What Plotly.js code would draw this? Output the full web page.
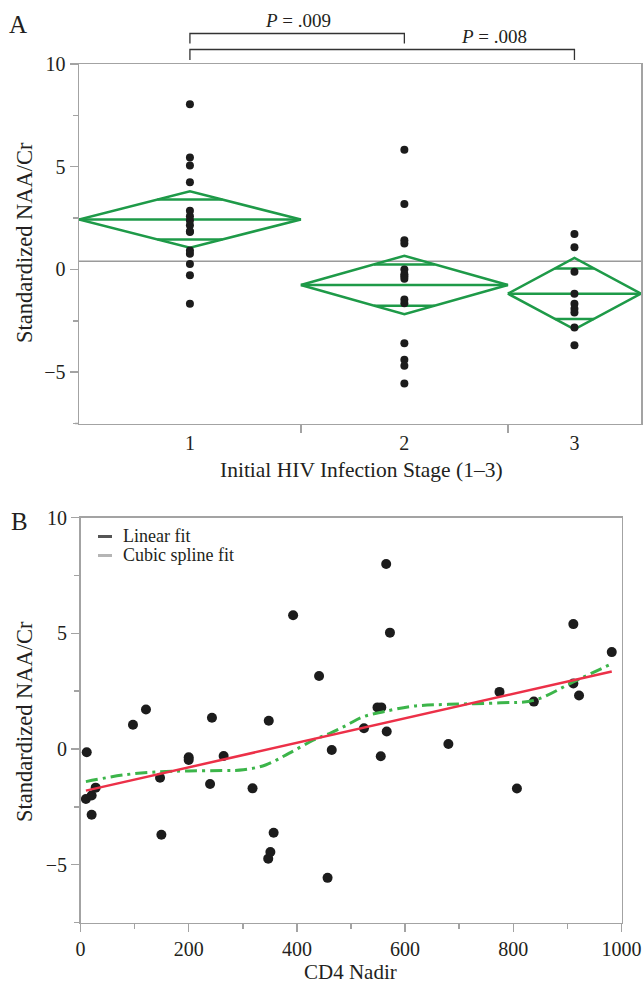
<!DOCTYPE html>
<html><head><meta charset="utf-8">
<script src="https://cdn.plot.ly/plotly-3.0.1.min.js"></script>
<style>html,body{margin:0;padding:0;background:#fff}</style>
</head><body><div id="chart" style="width:644px;height:986px"></div>
<script>
// ---------- Panel A data ----------
const stageLabels = ['1', '2', '3'];
const stage1 = [8.04, 5.45, 5.06, 4.24, 2.86, 2.59, 2.38, 2.15, 1.86, 1.82, 0.92, 0.76, 0.27, -0.28, -1.67];
const stage2 = [5.83, 3.19, 1.42, 1.26, 0.0, -0.24, -0.33, -0.45, -1.46, -1.65, -3.59, -4.40, -4.69, -5.55];
const stage3 = [1.73, 1.08, -0.11, -1.18, -1.67, -1.91, -2.10, -2.83, -3.69];
const groupMeans = [2.43, -0.76, -1.18];
const ciHalfWidth = [1.37, 1.42, 1.74];
const pLabels = ['<i>P</i> = .009', '<i>P</i> = .008'];

// ---------- Panel B data ----------
const cd4Nadir = [10, 11.5, 20.6, 20.6, 28, 97, 121, 147, 149.5, 200, 200, 239.5, 243, 264.6, 318, 348, 347, 351, 357,
  393, 441, 456.7, 464.4, 524, 549, 556, 555, 565, 566, 572, 680, 774.5, 806.7, 838, 911, 911, 921.5, 982];
const naaCr = [-2.16, -0.14, -2.01, -2.84, -1.67, 1.05, 1.71, -1.24, -3.71, -0.36, -0.47, -1.51, 1.35, -0.30, -1.70, 1.22, -4.74, -4.45, -3.62,
  5.78, 3.16, -5.57, -0.04, 0.90, 1.80, 1.80, -0.31, 8.00, 0.76, 5.03, 0.22, 2.47, -1.71, 2.05, 5.40, 2.83, 2.31, 4.19];
const linearFitX = [10, 982];
const linearFitY = [-1.80, 3.35];
const splineX = [10, 80, 147, 200, 264, 301, 342, 385, 431, 461, 492, 522, 560, 614, 680, 777, 839, 911, 982];
const splineY = [-1.41, -1.12, -0.98, -0.95, -0.93, -0.90, -0.69, -0.19, 0.39, 0.68, 1.03, 1.39, 1.61, 1.85, 1.93, 2.00, 2.11, 2.90, 3.69];
const legendLabels = ['Linear fit', 'Cubic spline fit'];

const yTickVals = [-5, 0, 5, 10];
const yTickText = ['\u22125', '0', '5', '10'];
const xTickValsB = [0, 200, 400, 600, 800, 1000];

// ---------- styling ----------
const W = 644, H = 986;
const px = x => x / W, py = y => 1 - y / H;
const FONT = 'Liberation Serif, Times New Roman, serif';
const TXT = '#231f20';
const AX = '#a3a3a3';
const GREEN = '#1e9a48';

const groups = [stage1, stage2, stage3];
const counts = groups.map(g => g.length);
const starts = [];
let acc = 0;
counts.forEach(c => { starts.push(acc); acc += c; });
const total = acc;
const ends = starts.map((s, i) => s + counts[i]);
const centers = starts.map((s, i) => (s + ends[i]) / 2);
const allA = [].concat(...groups);
const grandMean = allA.reduce((a, b) => a + b, 0) / allA.length;

const traces = [];
// diamonds
groups.forEach((g, i) => {
  const m = groupMeans[i], h = ciHalfWidth[i];
  const x0 = starts[i], x1 = ends[i], xc = centers[i];
  const hh = h / Math.SQRT2;
  const w = (x1 - x0) / 2 * (1 - 1 / Math.SQRT2);
  traces.push({
    x: [x0, xc, x1, xc, x0, null, x0, x1, null, xc - w, xc + w, null, xc - w, xc + w],
    y: [m, m + h, m, m - h, m, null, m, m, null, m + hh, m + hh, null, m - hh, m - hh],
    mode: 'lines', line: {color: GREEN, width: 2.5}, xaxis: 'x', yaxis: 'y',
    hoverinfo: 'skip', showlegend: false, connectgaps: false
  });
});
// points A
groups.forEach((g, i) => {
  traces.push({
    x: g.map(() => centers[i]), y: g, mode: 'markers',
    marker: {color: '#1c1c1c', size: 8}, xaxis: 'x', yaxis: 'y', showlegend: false
  });
});
// panel B
traces.push({x: cd4Nadir, y: naaCr, mode: 'markers', marker: {color: '#1c1c1c', size: 10},
  xaxis: 'x2', yaxis: 'y2', showlegend: false});
traces.push({x: splineX, y: splineY, mode: 'lines', line: {color: '#3cb54a', width: 3, dash: '12px,5px,3px,5px', shape: 'spline', smoothing: 1},
  xaxis: 'x2', yaxis: 'y2', showlegend: false});
traces.push({x: linearFitX, y: linearFitY, mode: 'lines', line: {color: '#ec3048', width: 2.5},
  xaxis: 'x2', yaxis: 'y2', showlegend: false});

const axisBase = {
  showline: true, linecolor: AX, linewidth: 1.5, mirror: true,
  ticks: 'outside', tickcolor: AX, tickwidth: 1.5, ticklen: 8,
  showgrid: false, zeroline: false, fixedrange: true,
  tickfont: {family: FONT, size: 20, color: TXT}
};

const layout = {
  width: W, height: H,
  margin: {l: 0, r: 0, t: 0, b: 0},
  paper_bgcolor: '#fff', plot_bgcolor: '#fff',
  showlegend: false,
  xaxis: Object.assign({}, axisBase, {
    domain: [px(79), px(641)], anchor: 'y', range: [0, total],
    tickmode: 'array', tickvals: centers, ticktext: stageLabels, tickcolor: 'rgba(0,0,0,0)', ticklen: 1,
    minor: {tickvals: starts.slice(1), ticks: 'outside', ticklen: 8, tickwidth: 1.5, tickcolor: AX}
  }),
  yaxis: Object.assign({}, axisBase, {
    domain: [py(423.5), py(64)], anchor: 'x', range: [-7.5, 10],
    tickmode: 'array', tickvals: yTickVals, ticktext: yTickText,
    minor: {dtick: 2.5, tick0: 0, ticks: 'outside', ticklen: 5, tickwidth: 1.5, tickcolor: AX}
  }),
  xaxis2: Object.assign({}, axisBase, {
    domain: [px(80.5), px(621.5)], anchor: 'y2', range: [0, 1000],
    tickmode: 'array', tickvals: xTickValsB,
    minor: {dtick: 100, tick0: 0, ticks: 'outside', ticklen: 5, tickwidth: 1.5, tickcolor: AX}
  }),
  yaxis2: Object.assign({}, axisBase, {
    domain: [py(922.5), py(517.7)], anchor: 'x2', range: [-7.5, 10],
    tickmode: 'array', tickvals: yTickVals, ticktext: yTickText,
    minor: {dtick: 2.5, tick0: 0, ticks: 'outside', ticklen: 5, tickwidth: 1.5, tickcolor: AX}
  }),
  shapes: [
    // grand mean reference line
    {type: 'line', xref: 'x', yref: 'y', x0: 0, x1: total, y0: grandMean, y1: grandMean, line: {color: '#9a9a9a', width: 1.5}, layer: 'below'},
    // x-axis A stub extending slightly left of the y axis
    {type: 'line', xref: 'paper', yref: 'paper', x0: px(75), x1: px(79), y0: py(423.5), y1: py(423.5), line: {color: AX, width: 1.5}},
    // P brackets
    {type: 'path', xref: 'x', yref: 'paper',
      path: `M ${centers[0]} ${py(43.5)} L ${centers[0]} ${py(33.5)} L ${centers[1]} ${py(33.5)} L ${centers[1]} ${py(43.5)}`,
      line: {color: '#333', width: 1.3}},
    {type: 'path', xref: 'x', yref: 'paper',
      path: `M ${centers[0]} ${py(60)} L ${centers[0]} ${py(49.5)} L ${centers[2]} ${py(49.5)} L ${centers[2]} ${py(60)}`,
      line: {color: '#333', width: 1.3}},
    // legend samples
    {type: 'line', xref: 'paper', yref: 'paper', x0: px(98), x1: px(112), y0: py(536.5), y1: py(536.5), line: {color: '#555', width: 3}},
    {type: 'line', xref: 'paper', yref: 'paper', x0: px(98), x1: px(112), y0: py(555.5), y1: py(555.5), line: {color: '#b5b5b5', width: 3}}
  ],
  annotations: [
    {text: 'A', xref: 'paper', yref: 'paper', x: px(18), y: py(25), xanchor: 'center', yanchor: 'middle', showarrow: false, font: {family: FONT, size: 25, color: TXT}},
    {text: 'B', xref: 'paper', yref: 'paper', x: px(19), y: py(521), xanchor: 'center', yanchor: 'middle', showarrow: false, font: {family: FONT, size: 25, color: TXT}},
    {text: pLabels[0], xref: 'paper', yref: 'paper', x: px(298), y: py(20), xanchor: 'center', yanchor: 'middle', showarrow: false, font: {family: FONT, size: 19, color: TXT}},
    {text: pLabels[1], xref: 'paper', yref: 'paper', x: px(494), y: py(36), xanchor: 'center', yanchor: 'middle', showarrow: false, font: {family: FONT, size: 19, color: TXT}},
    {text: 'Standardized NAA/Cr', xref: 'paper', yref: 'paper', x: px(24), y: py(243), textangle: -90, xanchor: 'center', yanchor: 'middle', showarrow: false, font: {family: FONT, size: 22.5, color: TXT}},
    {text: 'Initial HIV Infection Stage (1\u20133)', xref: 'paper', yref: 'paper', x: px(361), y: py(470), xanchor: 'center', yanchor: 'middle', showarrow: false, font: {family: FONT, size: 21.5, color: TXT}},
    {text: 'Standardized NAA/Cr', xref: 'paper', yref: 'paper', x: px(24), y: py(722), textangle: -90, xanchor: 'center', yanchor: 'middle', showarrow: false, font: {family: FONT, size: 22.5, color: TXT}},
    {text: 'CD4 Nadir', xref: 'paper', yref: 'paper', x: px(351), y: py(972), xanchor: 'center', yanchor: 'middle', showarrow: false, font: {family: FONT, size: 21, color: TXT}},
    {text: legendLabels[0], xref: 'paper', yref: 'paper', x: px(121), y: py(536), xanchor: 'left', yanchor: 'middle', showarrow: false, font: {family: FONT, size: 18, color: TXT}},
    {text: legendLabels[1], xref: 'paper', yref: 'paper', x: px(121), y: py(555), xanchor: 'left', yanchor: 'middle', showarrow: false, font: {family: FONT, size: 18, color: TXT}}
  ]
};

Plotly.newPlot('chart', traces, layout, {displayModeBar: false, staticPlot: true});
</script></body></html>
